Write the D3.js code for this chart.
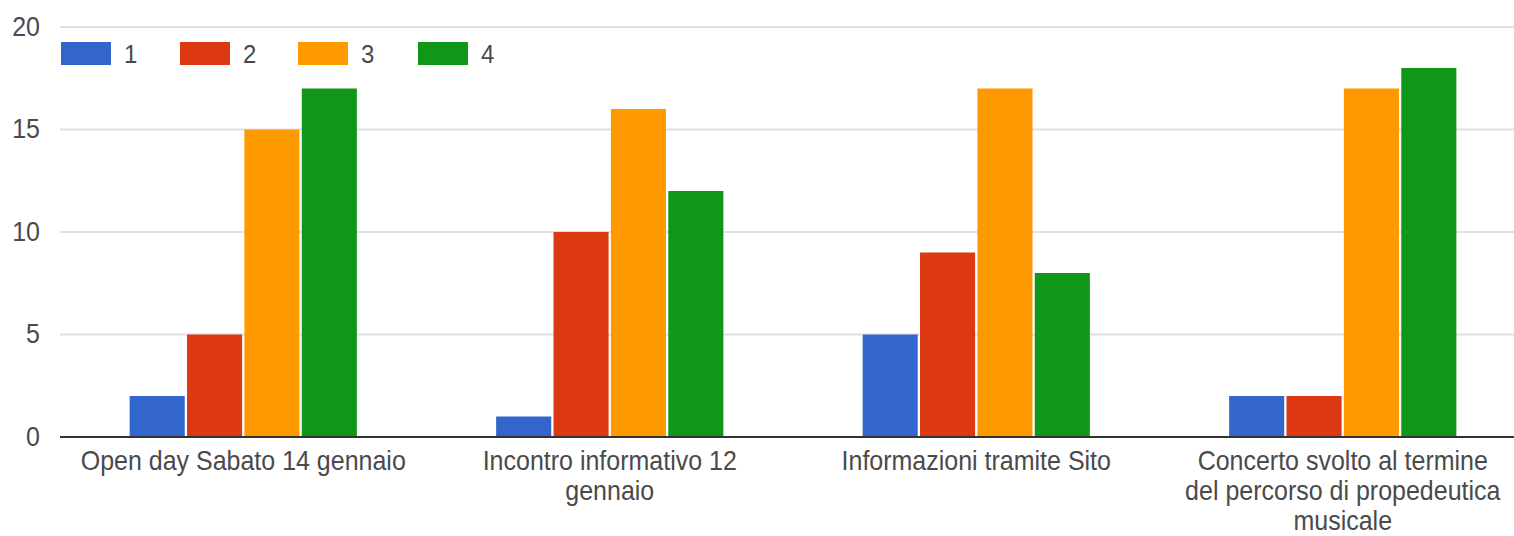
<!DOCTYPE html>
<html><head><meta charset="utf-8">
<script src="https://cdn.jsdelivr.net/npm/d3@7"></script>
<style>body{margin:0;background:#fff;}svg{display:block;font-family:"Liberation Sans",Arial,sans-serif;}</style>
</head><body>
<svg id="c" width="1514" height="536"></svg>
<script>
const categories = [
  ["Open day Sabato 14 gennaio"],
  ["Incontro informativo 12", "gennaio"],
  ["Informazioni tramite Sito"],
  ["Concerto svolto al termine", "del percorso di propedeutica", "musicale"]
];
const seriesNames = ["1", "2", "3", "4"];
const s1 = [2, 1, 5, 2];
const s2 = [5, 10, 9, 2];
const s3 = [15, 16, 17, 17];
const s4 = [17, 12, 8, 18];
const yTicks = [0, 5, 10, 15, 20];
const colors = ["#3366cc", "#dc3912", "#ff9900", "#109618"];

const series = [s1, s2, s3, s4];
const svg = d3.select("#c");
const W = 1514, H = 536;
const VS = 1.1; // vertical text stretch seen in reference
const x0 = d3.scaleBand().domain(d3.range(categories.length)).range([60, 1526]);
const groupW = x0.bandwidth() * 0.62;
const x1 = d3.scaleBand().domain(d3.range(series.length)).range([0, groupW]).paddingInner(0.04);
const y = d3.scaleLinear().domain([0, 20]).range([437, 27]);

function stretchedText(sel, x, yb, txt, size, anchor) {
  return sel.append("text")
    .attr("transform", `translate(${x},${yb}) scale(1,${VS})`)
    .attr("text-anchor", anchor).attr("font-size", size).attr("fill", "#4a4a4a").text(txt);
}

// gridlines
svg.append("g").selectAll("line").data(yTicks.filter(d => d > 0)).join("line")
  .attr("x1", 60).attr("x2", W)
  .attr("y1", d => y(d)).attr("y2", d => y(d))
  .attr("stroke", "#e0e0e0").attr("stroke-width", 2);

// y labels
const ya = svg.append("g");
yTicks.forEach(t => stretchedText(ya, 40, y(t) + 8.5, String(t), 25, "end"));

// bars
const g = svg.append("g");
categories.forEach((c, i) => {
  const gx = x0(i) + (x0.bandwidth() - groupW) / 2;
  series.forEach((s, j) => {
    g.append("rect")
      .attr("x", gx + x1(j)).attr("width", x1.bandwidth())
      .attr("y", y(s[i])).attr("height", y(0) - y(s[i]))
      .attr("fill", colors[j]);
  });
});

// baseline
svg.append("line").attr("x1", 60).attr("x2", W).attr("y1", y(0)).attr("y2", y(0))
  .attr("stroke", "#333").attr("stroke-width", 2);

// x labels
const xa = svg.append("g");
categories.forEach((c, i) => {
  const cx = x0(i) + x0.bandwidth() / 2;
  c.forEach((line, k) => stretchedText(xa, cx, y(0) + 33 + k * 30, line, 25, "middle"));
});

// legend
const legX = [61, 180, 298, 418];
const lg = svg.append("g");
seriesNames.forEach((n, j) => {
  lg.append("rect").attr("x", legX[j]).attr("y", 42).attr("width", 50).attr("height", 23).attr("fill", colors[j]);
  stretchedText(lg, legX[j] + 63, 63, n, 24, "start");
});
</script>
</body></html>
